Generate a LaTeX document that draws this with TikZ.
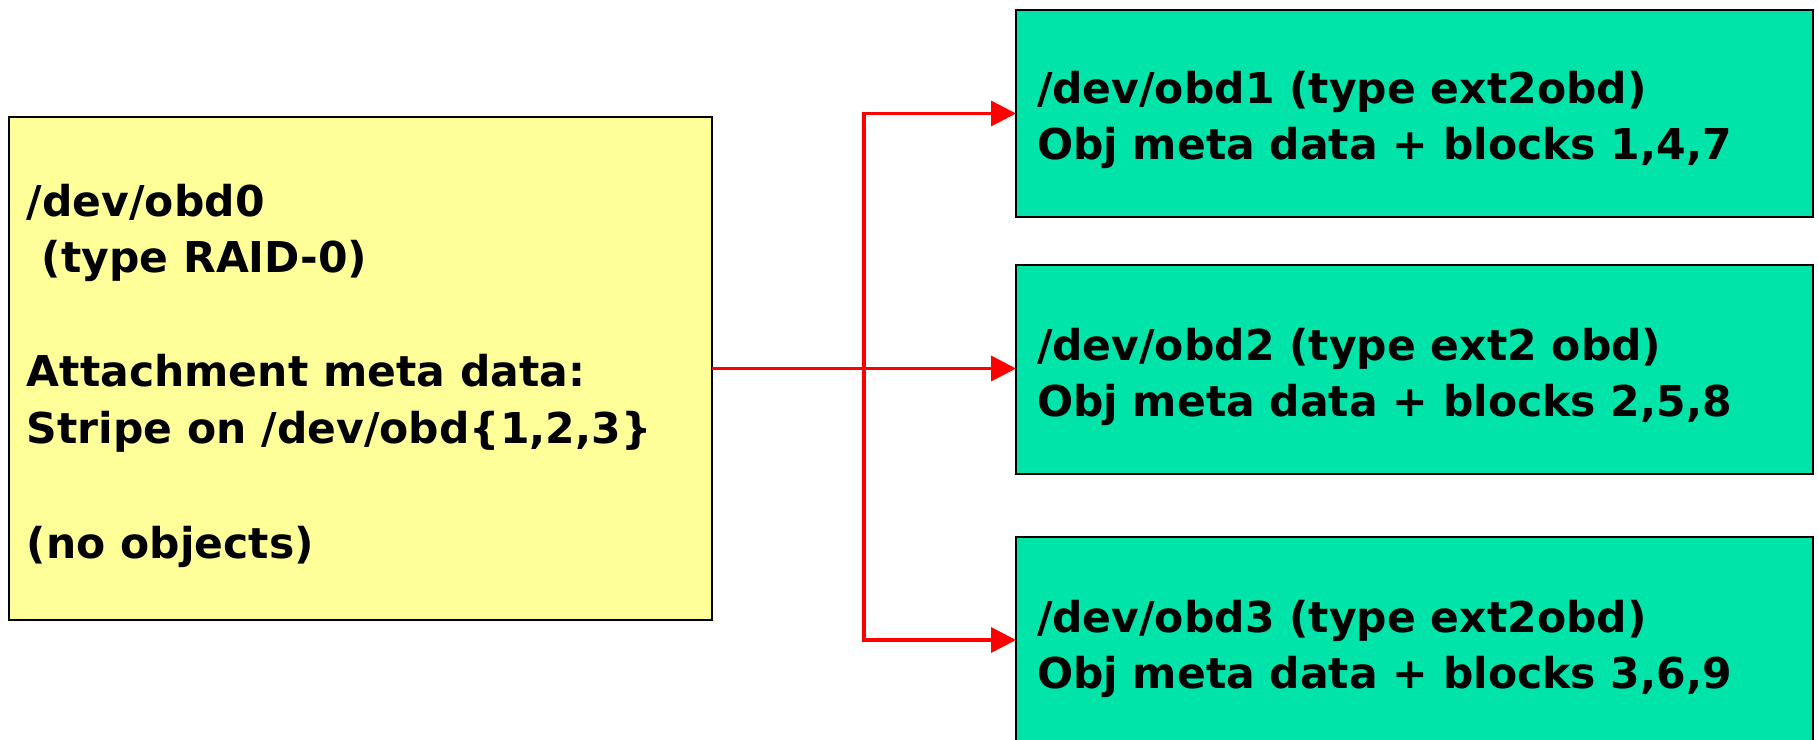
\documentclass[tikz,border=0pt]{standalone}
\usepackage{fontspec}
\setmainfont{DejaVu Sans}
\usetikzlibrary{arrows.meta}
\definecolor{raidfill}{RGB}{255,255,153}
\definecolor{objfill}{RGB}{0,228,170}
\definecolor{linkred}{RGB}{255,0,0}

\begin{document}
\begin{tikzpicture}[x=1pt,y=-1pt,
  box/.style={draw=black, line width=1.6pt, anchor=north west, inner sep=0pt, outer sep=0pt},
  raidbox/.style={box, fill=raidfill},
  objbox/.style={box, fill=objfill, minimum width=797pt},
  label/.style={anchor=base west, inner sep=0pt, outer sep=0pt,
    font=\fontsize{42.5}{56}\selectfont\bfseries},
  link/.style={draw=linkred, line width=3.5pt, line join=miter},
  tip/.style={-{Triangle[length=25pt,width=25pt]}}]

\useasboundingbox (0,0) rectangle (1818,739);
\clip (0,0) rectangle (1818,739);

% devices
\node[raidbox, minimum width=703pt, minimum height=503pt] (raid) at (9,117) {};
\node[objbox, minimum height=207pt] (obd1) at (1016,10) {};
\node[objbox, minimum height=209pt] (obd2) at (1016,265) {};
\node[objbox, minimum height=206pt] (obd3) at (1016,537) {};

% RAID-0 device description
\node[label] (r1) at (27,216) {/dev/obd0};
\node[label] (r2) at (27,272) {\ (type RAID-0)};
\node[label] (r3) at (27,386) {Attachment meta data:};
\node[label] (r4) at (27,443) {Stripe on /dev/obd\{1,2,3\}};
\node[label] (r5) at (27,558) {(no objects)};

% object devices
\node[label] (a1) at (1037,103.5) {/dev/obd1 (type ext2obd)};
\node[label] (a2) at (1037,159) {Obj meta data + blocks 1,4,7};
\node[label] (b1) at (1037,360) {/dev/obd2 (type ext2 obd)};
\node[label] (b2) at (1037,416.5) {Obj meta data + blocks 2,5,8};
\node[label] (c1) at (1037,632) {/dev/obd3 (type ext2obd)};
\node[label] (c2) at (1037,688.5) {Obj meta data + blocks 3,6,9};

% striping links
\path (raid.east) -- (raid.east -| obd2.west) coordinate[pos=0.5] (fork);
\draw[link, tip] (raid.east) -- (raid.east -| obd2.west);
\draw[link, tip] (fork) |- (obd1.west);
\draw[link, tip] (fork) |- (obd3.west);
\end{tikzpicture}
\end{document}
